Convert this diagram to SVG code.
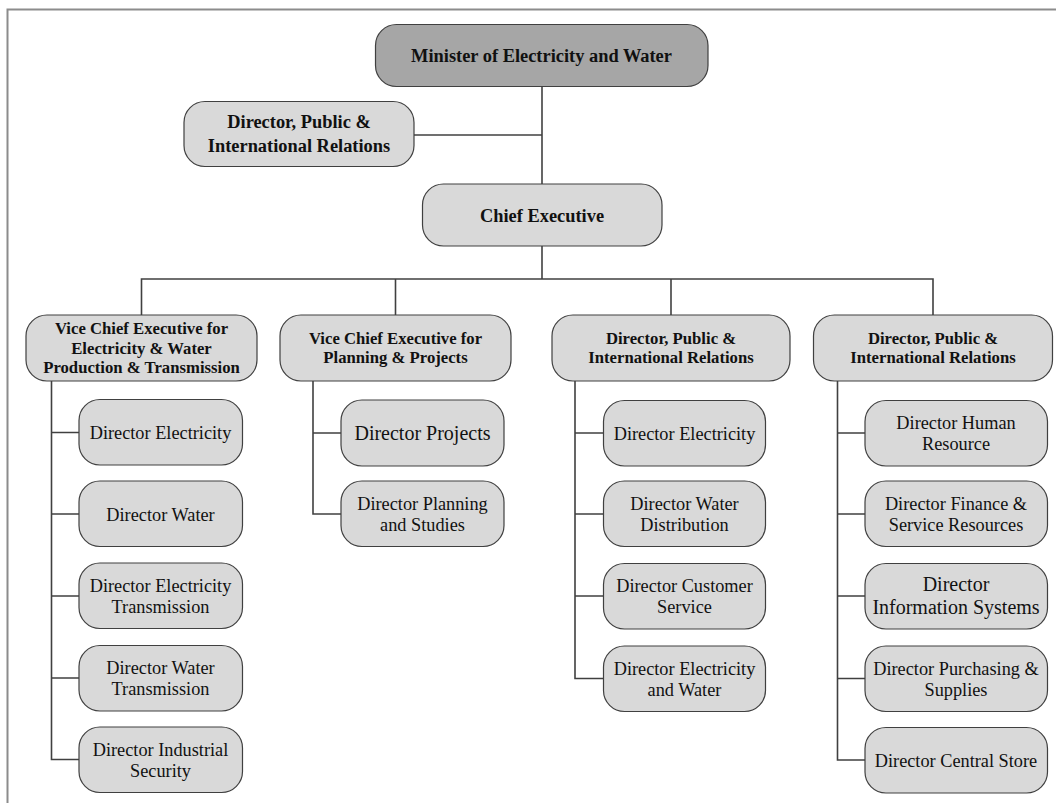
<svg xmlns="http://www.w3.org/2000/svg" width="1056" height="803" viewBox="0 0 1056 803" font-family="'Liberation Serif', 'Times New Roman', Times, serif">
  <style>
    .box { fill: #d9d9d9; stroke: #404040; stroke-width: 1.2; }
    .top { fill: #a6a6a6; stroke: #404040; stroke-width: 1.2; }
    .link { fill: none; stroke: #404040; stroke-width: 1.6; }
    .frame { fill: none; stroke: #8c8c8c; stroke-width: 2; }
    text { font-family: 'Liberation Serif', 'Times New Roman', Times, serif; fill: #111; text-anchor: middle; }
    .h1 { font-size: 18.4px; font-weight: bold; }
    .h2 { font-size: 16.7px; font-weight: bold; }
    .d { font-size: 18.3px; }
    .dl { font-size: 20px; }
  </style>

  <!-- page frame -->
  <path class="frame" d="M7.5,803 V9.5 H1056"/>

  <!-- connectors -->
  <g id="connectors">
    <path class="link" d="M542,87 V184"/>
    <path class="link" d="M414,135 H542"/>
    <path class="link" d="M542,246 V279"/>
    <path class="link" d="M141.5,315 V279 H933 V315"/>
    <path class="link" d="M395.5,279 V315"/>
    <path class="link" d="M671,279 V315"/>
    <!-- column 1 -->
    <path class="link" d="M51.5,381 V759.5 H79"/>
    <path class="link" d="M51.5,432.5 H79 M51.5,514 H79 M51.5,596 H79 M51.5,678 H79"/>
    <!-- column 2 -->
    <path class="link" d="M313,381 V514 H341 M313,433 H341"/>
    <!-- column 3 -->
    <path class="link" d="M575,381 V678.5 H603.5 M575,433 H603.5 M575,514 H603.5 M575,596 H603.5"/>
    <!-- column 4 -->
    <path class="link" d="M837.5,381 V760 H865 M837.5,433 H865 M837.5,514 H865 M837.5,596 H865 M837.5,678.5 H865"/>
  </g>

  <!-- top level -->
  <g id="minister">
    <rect class="top" x="375.5" y="24.5" width="332.5" height="62" rx="21"/>
    <text class="h1" x="541.5" y="62">Minister of Electricity and Water</text>
  </g>
  <g id="pir-top">
    <rect class="box" x="184" y="101.5" width="230" height="65" rx="21"/>
    <text class="h1" x="299" y="128">Director, Public &amp;</text>
    <text class="h1" x="299" y="151.5">International Relations</text>
  </g>
  <g id="chief">
    <rect class="box" x="422.5" y="184" width="239.5" height="62" rx="21"/>
    <text class="h1" x="542" y="221.5">Chief Executive</text>
  </g>

  <!-- second level -->
  <g id="vce-production">
    <rect class="box" x="26" y="315" width="231" height="66" rx="21"/>
    <text class="h2" x="141.5" y="334">Vice Chief Executive for</text>
    <text class="h2" x="141.5" y="353.5">Electricity &amp; Water</text>
    <text class="h2" x="141.5" y="373">Production &amp; Transmission</text>
  </g>
  <g id="vce-planning">
    <rect class="box" x="280" y="315" width="231" height="66" rx="21"/>
    <text class="h2" x="395.5" y="343.5">Vice Chief Executive for</text>
    <text class="h2" x="395.5" y="363">Planning &amp; Projects</text>
  </g>
  <g id="pir-a">
    <rect class="box" x="552" y="315" width="238" height="66" rx="21"/>
    <text class="h2" x="671" y="343.5">Director, Public &amp;</text>
    <text class="h2" x="671" y="363">International Relations</text>
  </g>
  <g id="pir-b">
    <rect class="box" x="813.5" y="315" width="239" height="66" rx="21"/>
    <text class="h2" x="933" y="343.5">Director, Public &amp;</text>
    <text class="h2" x="933" y="363">International Relations</text>
  </g>

  <!-- column 1 -->
  <g id="c1-electricity">
    <rect class="box" x="79" y="399.5" width="163.5" height="65.5" rx="21"/>
    <text class="d" x="160.5" y="439">Director Electricity</text>
  </g>
  <g id="c1-water">
    <rect class="box" x="79" y="481" width="163.5" height="65.5" rx="21"/>
    <text class="d" x="160.5" y="520.5">Director Water</text>
  </g>
  <g id="c1-elec-trans">
    <rect class="box" x="79" y="563" width="163.5" height="65.5" rx="21"/>
    <text class="d" x="160.5" y="591.5">Director Electricity</text>
    <text class="d" x="160.5" y="612.5">Transmission</text>
  </g>
  <g id="c1-water-trans">
    <rect class="box" x="79" y="645.5" width="163.5" height="65.5" rx="21"/>
    <text class="d" x="160.5" y="674">Director Water</text>
    <text class="d" x="160.5" y="695">Transmission</text>
  </g>
  <g id="c1-security">
    <rect class="box" x="79" y="727" width="163.5" height="65.5" rx="21"/>
    <text class="d" x="160.5" y="755.5">Director Industrial</text>
    <text class="d" x="160.5" y="776.5">Security</text>
  </g>

  <!-- column 2 -->
  <g id="c2-projects">
    <rect class="box" x="341" y="400" width="163" height="66" rx="21"/>
    <text class="dl" x="422.5" y="440">Director Projects</text>
  </g>
  <g id="c2-planning">
    <rect class="box" x="341" y="481" width="163" height="65.5" rx="21"/>
    <text class="d" x="422.5" y="509.5">Director Planning</text>
    <text class="d" x="422.5" y="530.5">and Studies</text>
  </g>

  <!-- column 3 -->
  <g id="c3-electricity">
    <rect class="box" x="603.5" y="400.5" width="162" height="65.5" rx="21"/>
    <text class="d" x="684.5" y="440">Director Electricity</text>
  </g>
  <g id="c3-distribution">
    <rect class="box" x="603.5" y="481" width="162" height="65.5" rx="21"/>
    <text class="d" x="684.5" y="509.5">Director Water</text>
    <text class="d" x="684.5" y="530.5">Distribution</text>
  </g>
  <g id="c3-customer">
    <rect class="box" x="603.5" y="563.5" width="162" height="65.5" rx="21"/>
    <text class="d" x="684.5" y="592">Director Customer</text>
    <text class="d" x="684.5" y="613">Service</text>
  </g>
  <g id="c3-elec-water">
    <rect class="box" x="603.5" y="646" width="162" height="65.5" rx="21"/>
    <text class="d" x="684.5" y="674.5">Director Electricity</text>
    <text class="d" x="684.5" y="695.5">and Water</text>
  </g>

  <!-- column 4 -->
  <g id="c4-hr">
    <rect class="box" x="865" y="400.5" width="182.5" height="65.5" rx="21"/>
    <text class="d" x="956" y="428.5">Director Human</text>
    <text class="d" x="956" y="449.5">Resource</text>
  </g>
  <g id="c4-finance">
    <rect class="box" x="865" y="481" width="182.5" height="65.5" rx="21"/>
    <text class="d" x="956" y="509.5">Director Finance &amp;</text>
    <text class="d" x="956" y="530.5">Service Resources</text>
  </g>
  <g id="c4-is">
    <rect class="box" x="865" y="563.5" width="182.5" height="65.5" rx="21"/>
    <text class="dl" x="956" y="590.5">Director</text>
    <text class="dl" x="956" y="613.5">Information Systems</text>
  </g>
  <g id="c4-purchasing">
    <rect class="box" x="865" y="646" width="182.5" height="65.5" rx="21"/>
    <text class="d" x="956" y="674.5">Director Purchasing &amp;</text>
    <text class="d" x="956" y="695.5">Supplies</text>
  </g>
  <g id="c4-store">
    <rect class="box" x="865" y="727.5" width="182.5" height="65.5" rx="21"/>
    <text class="d" x="956" y="766.5">Director Central Store</text>
  </g>
</svg>
